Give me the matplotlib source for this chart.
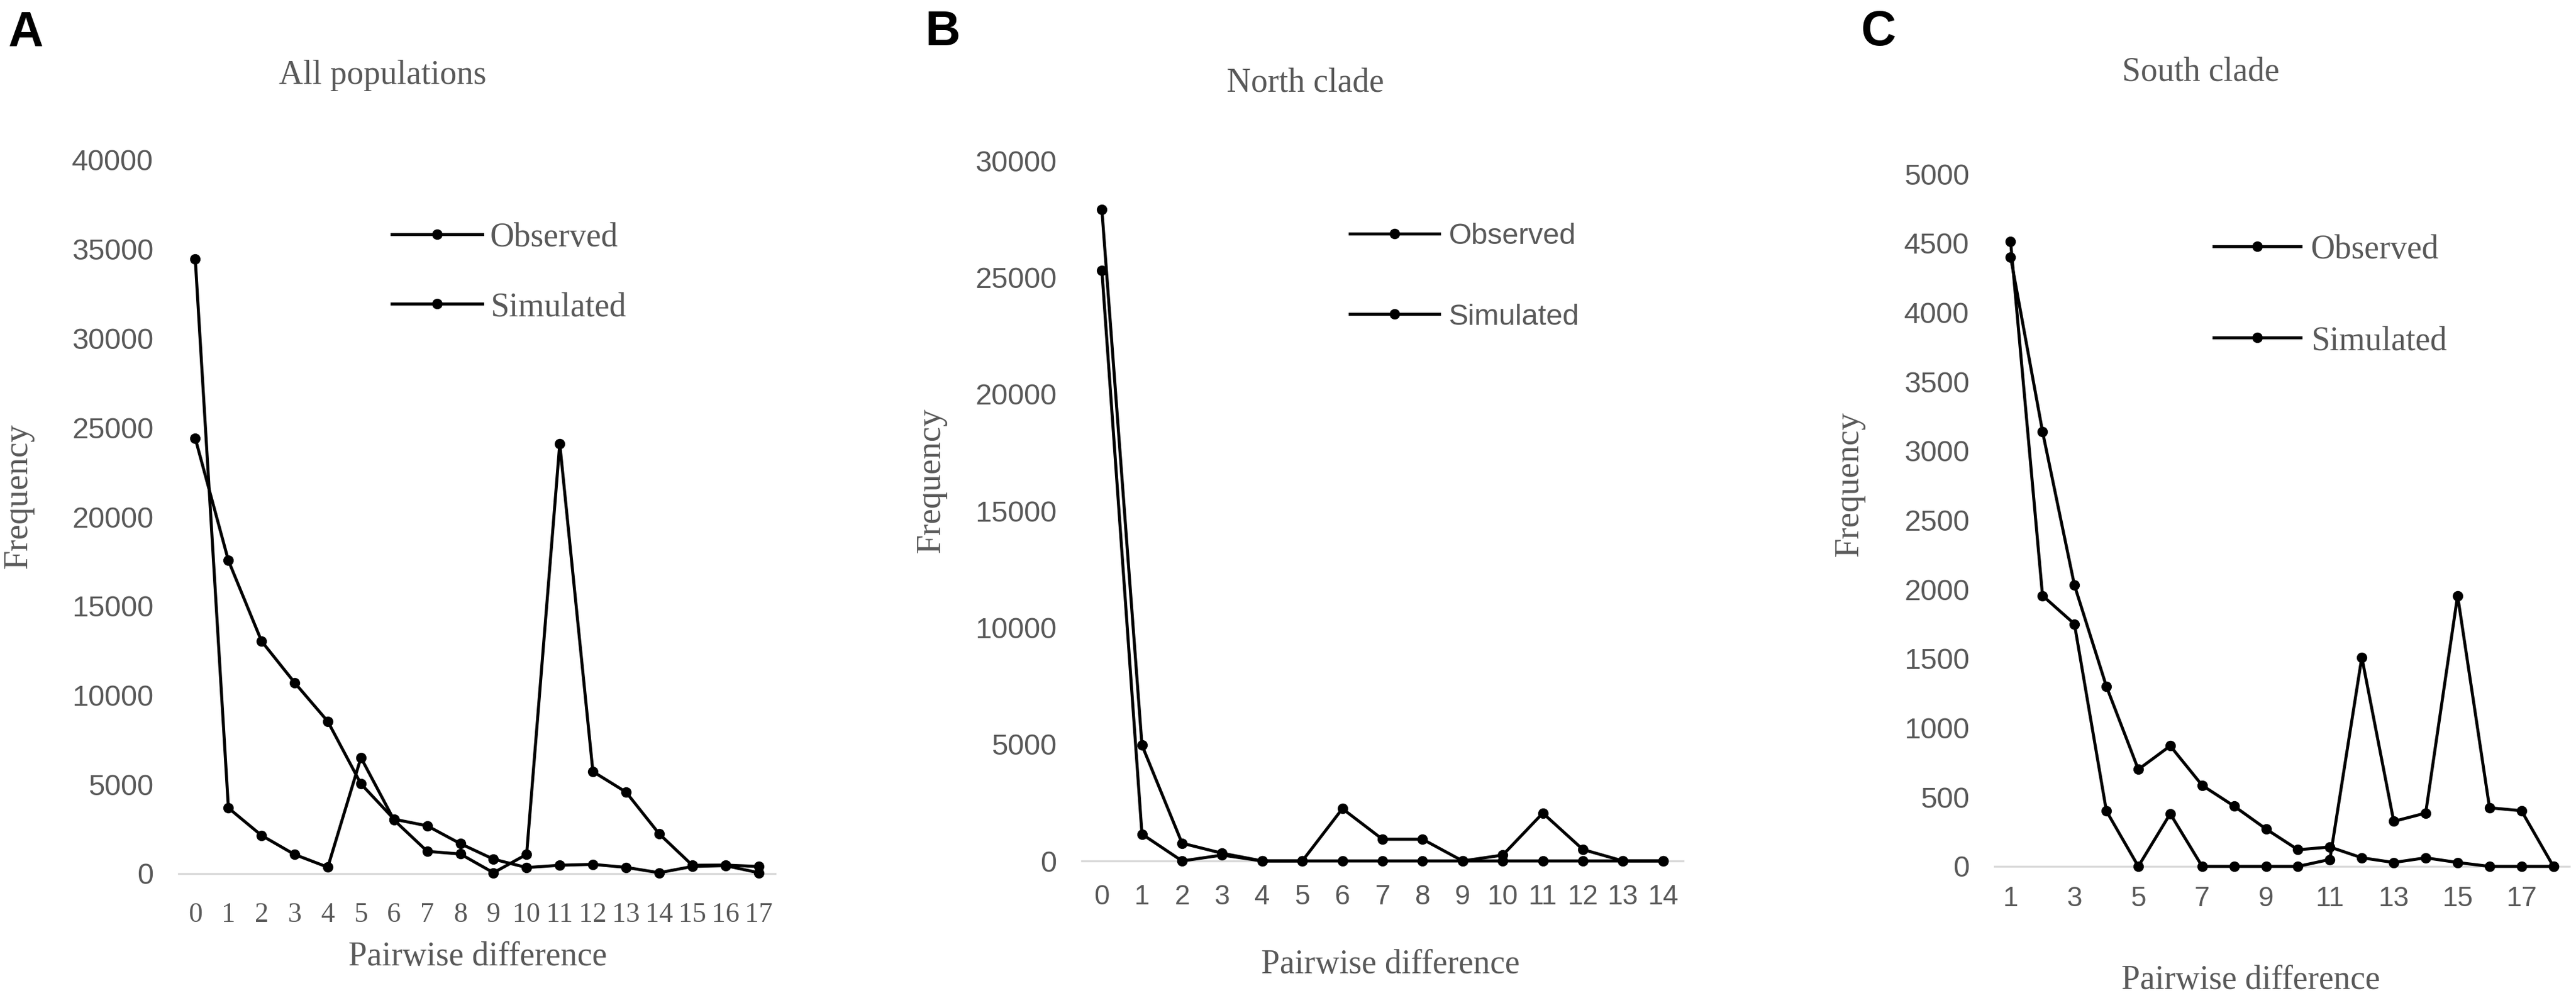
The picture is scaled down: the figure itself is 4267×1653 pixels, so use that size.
import matplotlib
matplotlib.use("Agg")
import matplotlib.pyplot as plt
from matplotlib.lines import Line2D

W, H = 4267, 1653
DPI = 100
GRAY = "#595959"
AXIS_GRAY = "#D9D9D9"
SERIF = "Liberation Serif"
SANS = "Liberation Sans"

# ---------------- data ----------------
a_x = list(range(0, 18))
a_observed = [34450, 3680, 2140, 1070, 360, 6500, 3000, 1250, 1100, 50, 1080,
              24100, 5720, 4570, 2230, 470, 480, 400]
a_simulated = [24400, 17550, 13030, 10700, 8530, 5030, 3050, 2680, 1680, 810, 340,
               470, 520, 350, 50, 400, 450, 50]

b_x = list(range(0, 15))
b_observed = [25300, 1150, 0, 250, 0, 0, 2240, 930, 930, 0, 250, 2050, 490, 0, 0]
b_simulated = [27900, 4960, 760, 330, 0, 0, 0, 0, 0, 0, 0, 0, 0, 0, 0]

c_x = list(range(1, 19))
c_observed = [4510, 1955, 1750, 400, 0, 380, 0, 0, 0, 0, 50, 1510, 325, 385,
              1955, 423, 402, 0]
c_simulated = [4400, 3140, 2030, 1300, 700, 870, 585, 435, 270, 120, 140, 62, 28,
               62, 28, 0, 0, 0]

a_yticks = [0, 5000, 10000, 15000, 20000, 25000, 30000, 35000, 40000]
b_yticks = [0, 5000, 10000, 15000, 20000, 25000, 30000]
c_yticks = [0, 500, 1000, 1500, 2000, 2500, 3000, 3500, 4000, 4500, 5000]
a_xticks = list(range(0, 18))
b_xticks = list(range(0, 15))
c_xticks = [1, 3, 5, 7, 9, 11, 13, 15, 17]

titles = ["All populations", "North clade", "South clade"]
letters = ["A", "B", "C"]
legend_labels = ["Observed", "Simulated"]

# ---------------- layout helpers ----------------
def fx(x):
    return x / W

def fy(y):
    return 1 - y / H

fig = plt.figure(figsize=(W / DPI, H / DPI), dpi=DPI)

panels = [
    dict(x=a_x, obs=a_observed, sim=a_simulated, yt=a_yticks, xt=a_xticks,
         xl=(-0.5, 17.5), yl=(0, 40000),
         box=(296, 1284, 1447, 265), tickfont=SERIF, xtickfont=SERIF, xpad=34,
         legfont=SERIF, legsize=40, leg=(649, 799, 812, 388, 503),
         title=(634, 125), ylab=(30, 822), xlab=(791, 1585)),
    dict(x=b_x, obs=b_observed, sim=b_simulated, yt=b_yticks, xt=b_xticks,
         xl=(-0.5, 14.5), yl=(0, 30000),
         box=(1792, 2788, 1426, 266), tickfont=SANS, xtickfont=SANS, xpad=27,
         legfont=SANS, legsize=35, leg=(2236, 2384, 2400, 387, 520),
         title=(2162, 137), ylab=(1542, 796), xlab=(2303, 1598)),
    dict(x=c_x, obs=c_observed, sim=c_simulated, yt=c_yticks, xt=c_xticks,
         xl=(0.5, 18.5), yl=(0, 5000),
         box=(3304, 4256, 1435, 288), tickfont=SANS, xtickfont=SANS, xpad=23,
         legfont=SERIF, legsize=40, leg=(3667, 3811, 3828, 408, 559),
         title=(3645, 119), ylab=(3063, 802), xlab=(3728, 1624)),
]

letter_pos = [(14, 16), (1533, 16), (3083, 16)]

for i, p in enumerate(panels):
    x0, x1, y0, y1 = p["box"]
    ax = fig.add_axes([fx(x0), fy(y0), fx(x1) - fx(x0), fy(y1) - fy(y0)])
    ax.set_xlim(*p["xl"])
    ax.set_ylim(*p["yl"])
    for s in ["top", "right", "left"]:
        ax.spines[s].set_visible(False)
    ax.spines["bottom"].set_color(AXIS_GRAY)
    ax.spines["bottom"].set_linewidth(2.4)
    ax.spines["bottom"].set_zorder(0)
    ax.set_yticks(p["yt"])
    ax.set_yticklabels([str(v) for v in p["yt"]])
    ax.set_xticks(p["xt"])
    ax.set_xticklabels([str(v) for v in p["xt"]])
    ax.tick_params(axis="y", length=0, pad=30, labelsize=35, labelcolor=GRAY)
    ax.tick_params(axis="x", length=0, pad=p["xpad"], labelsize=33, labelcolor=GRAY)
    for lbl in ax.get_yticklabels():
        lbl.set_fontfamily(SANS)
    for lbl in ax.get_xticklabels():
        lbl.set_fontfamily(p["xtickfont"])
    ax.patch.set_alpha(0)

    for series in (p["sim"], p["obs"]):
        ax.plot(p["x"], series, color="black", lw=3.6, marker="o",
                markersize=11.5, markerfacecolor="black",
                markeredgecolor="black", clip_on=False, zorder=3)

    # legend
    lx0, lx1, tx, ly1, ly2 = p["leg"]
    for lab, ly in zip(legend_labels, (ly1, ly2)):
        fig.add_artist(Line2D([fx(lx0), fx(lx1)], [fy(ly), fy(ly)],
                              color="black", lw=3.6, transform=fig.transFigure))
        fig.add_artist(Line2D([fx((lx0 + lx1) / 2)], [fy(ly)], marker="o",
                              markersize=11.5, color="black",
                              transform=fig.transFigure))
        fig.text(fx(tx), fy(ly), lab, fontsize=p["legsize"], family=p["legfont"],
                 color=GRAY, ha="left", va="center_baseline")

    # title
    fig.text(fx(p["title"][0]), fy(p["title"][1]), titles[i], fontsize=40,
             family=SERIF, color=GRAY, ha="center", va="center")
    # y label
    fig.text(fx(p["ylab"][0]), fy(p["ylab"][1]), "Frequency", fontsize=41,
             family=SERIF, color=GRAY, ha="center", va="center", rotation=90)
    # x label
    fig.text(fx(p["xlab"][0]), fy(p["xlab"][1]), "Pairwise difference",
             fontsize=40, family=SERIF, color=GRAY, ha="center", va="center")
    # panel letter
    fig.text(fx(letter_pos[i][0]), fy(letter_pos[i][1]), letters[i], fontsize=58,
             family=SANS, weight="bold", color="black", ha="left", va="top")

fig.savefig("out.png", dpi=DPI, facecolor="white")
